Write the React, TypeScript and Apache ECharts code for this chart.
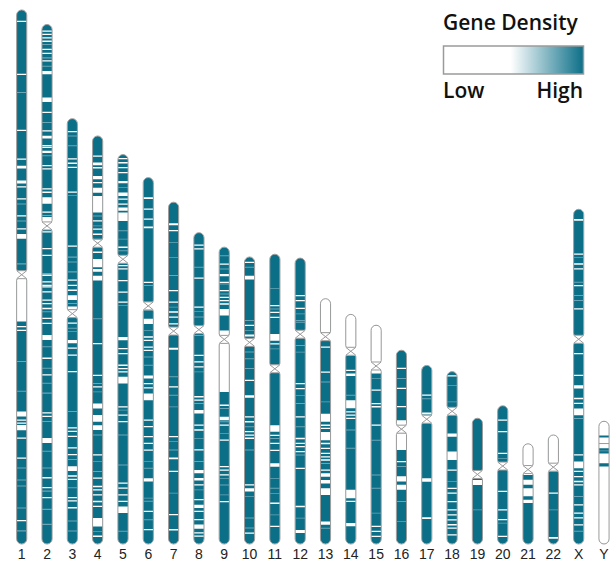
import React, { useEffect, useRef } from 'react';
import * as echarts from 'echarts';

// ---------- DATA ----------
const chromosomes = ['1','2','3','4','5','6','7','8','9','10','11','12','13','14','15','16','17','18','19','20','21','22','X','Y'];
const lengthsMb = [248.96, 242.19, 198.3, 190.21, 181.54, 170.81, 159.35, 145.14, 138.39, 133.8, 135.09, 133.28, 114.36, 107.04, 101.99, 90.34, 83.26, 80.37, 58.62, 64.44, 46.71, 50.82, 156.04, 57.23];
const centromereMb = [123.4, 93.9, 90.9, 50.0, 48.8, 59.8, 60.1, 45.2, 43.0, 39.8, 53.4, 35.5, 17.7, 17.2, 19.0, 36.8, 25.1, 18.5, 26.2, 28.1, 12.0, 15.0, 60.6, 10.4];

// Low gene-density segments: [startMb, endMb, density level (0 = lowest, 0.5 = reduced)]
const low1 = [[5.0,5.6,0],[29.7,30.3,0],[38.2,38.7,0.5],[55.8,56.4,0],[69.2,69.8,0],[72.6,73.9,0],[79.5,80.9,0],[82.2,82.8,0],[87.8,88.4,0],[90.2,90.7,0.5],[95.7,96.3,0],[98.1,98.6,0.5],[101.7,102.3,0],[104.4,106.7,0],[118.1,118.6,0.5],[123.0,145.2,0],[147.3,147.9,0],[149.1,149.7,0],[163.6,164.1,0.5],[177.5,178.0,0.5],[187.2,189.5,0],[190.9,191.5,0],[192.3,192.9,0],[193.5,195.9,0],[199.3,199.9,0],[208.6,209.2,0],[213.3,213.8,0.5],[218.9,219.4,0.5],[221.7,222.2,0.5],[231.9,232.4,0.5],[237.8,238.4,0],[242.6,243.1,0.5]];
const low2 = [[2.8,3.4,0],[4.3,4.9,0],[5.9,6.5,0],[7.5,8.1,0],[9.1,9.6,0.5],[11.3,11.9,0],[13.2,13.8,0],[15.3,15.8,0.5],[16.7,17.3,0],[19.2,19.7,0.5],[21.7,23.2,0],[34.0,36.1,0],[40.7,41.3,0],[45.5,45.9,0.5],[49.3,49.9,0],[51.9,53.1,0],[56.2,56.8,0],[57.0,57.6,0],[58.8,59.9,0],[61.0,61.4,0.5],[65.5,66.1,0],[67.0,67.6,0],[76.3,76.9,0],[77.9,78.5,0],[80.5,83.6,0],[87.2,87.8,0],[88.8,89.3,0.5],[89.8,92.1,0],[96.4,97.0,0],[104.2,104.8,0],[107.3,107.9,0],[115.9,116.4,0.5],[116.6,117.2,0],[119.7,120.3,0],[121.3,121.9,0],[122.0,122.6,0],[124.3,124.9,0],[128.2,128.8,0],[129.8,130.4,0],[132.1,132.7,0],[133.7,134.2,0.5],[136.7,137.3,0],[139.0,139.6,0],[144.8,147.1,0],[150.0,150.5,0.5],[155.3,155.9,0],[160.0,160.5,0.5],[163.0,163.6,0],[167.0,167.5,0.5],[171.6,172.1,0.5],[180.8,181.4,0],[182.4,183.0,0],[184.8,185.3,0.5],[192.8,195.1,0],[198.7,199.2,0.5],[206.5,207.0,0.5],[211.0,211.6,0],[215.6,216.2,0],[217.3,217.8,0.5],[220.3,220.9,0],[225.8,226.3,0.5],[232.8,233.3,0.5]];
const low3 = [[5.8,6.4,0],[7.8,8.3,0.5],[12.4,12.9,0.5],[18.5,19.1,0],[20.5,21.1,0],[22.4,23.0,0],[34.0,34.6,0],[35.7,36.1,0.5],[59.1,59.7,0],[64.3,64.8,0.5],[66.6,67.1,0.5],[71.2,71.7,0.5],[75.0,75.6,0],[77.4,78.0,0],[79.7,80.3,0],[82.3,84.6,0],[86.0,86.4,0.5],[87.6,90.6,0],[95.0,95.6,0],[97.5,97.9,0.5],[99.1,99.5,0.5],[103.2,104.7,0],[106.7,107.3,0],[109.9,110.5,0],[117.6,118.2,0],[136.3,136.7,0.5],[143.9,144.5,0],[145.5,146.1,0],[147.8,148.4,0],[153.2,153.8,0],[156.3,156.9,0],[158.7,159.1,0.5],[162.0,164.3,0],[166.3,166.9,0],[167.9,168.5,0],[171.8,172.3,0.5],[176.4,177.0,0],[177.9,178.5,0],[181.1,181.7,0],[187.3,187.8,0.5],[192.0,192.4,0.5]];
const low4 = [[9.1,9.7,0],[12.4,13.6,0],[14.5,15.1,0],[18.7,20.2,0],[21.4,22.0,0],[24.1,26.4,0],[28.0,35.7,0],[37.1,37.5,0.5],[39.3,39.9,0],[41.7,42.1,0.5],[43.1,43.7,0],[45.5,46.1,0],[47.9,48.3,0.5],[53.9,54.5,0],[57.4,61.2,0],[62.0,63.3,0],[65.1,67.4,0],[85.0,85.4,0.5],[96.5,97.1,0],[111.3,111.9,0],[115.2,115.6,0.5],[116.7,117.3,0],[119.1,119.5,0.5],[124.7,127.0,0],[130.1,133.2,0],[134.8,137.1,0],[139.2,139.6,0.5],[148.4,149.0,0],[151.6,152.0,0.5],[156.2,156.6,0.5],[159.2,159.8,0],[163.1,163.7,0],[164.7,165.3,0],[167.0,167.6,0],[170.1,170.7,0],[172.4,173.0,0],[178.1,182.0,0],[184.1,184.5,0.5],[186.3,186.9,0]];
const low5 = [[1.6,2.2,0],[3.5,4.1,0],[5.8,6.4,0],[8.1,8.7,0],[12.3,13.4,0],[15.2,15.6,0.5],[17.7,19.3,0],[20.5,21.1,0],[22.8,23.4,0],[24.7,26.2,0],[27.0,30.9,0],[35.3,35.7,0.5],[39.2,39.6,0.5],[42.9,43.5,0],[44.6,45.0,0.5],[51.5,52.1,0],[53.0,53.6,0],[58.5,59.1,0],[63.8,64.4,0],[68.5,69.1,0],[70.2,70.6,0.5],[85.0,86.6,0],[90.2,90.8,0],[92.5,93.1,0],[97.9,98.5,0],[99.5,100.1,0],[101.0,101.6,0],[103.6,106.7,0],[117.3,117.9,0],[118.9,119.3,0.5],[121.2,121.8,0],[124.2,124.8,0],[130.5,130.9,0.5],[144.5,144.9,0.5],[152.9,153.5,0],[155.2,155.8,0],[158.3,158.9,0],[161.4,162.0,0],[164.0,167.1,0],[175.4,175.8,0.5]];
const low6 = [[9.2,10.0,0],[14.4,15.0,0],[19.1,19.7,0],[22.8,23.6,0],[48.5,49.1,0],[50.1,50.5,0.5],[57.7,58.5,0.5],[61.8,62.2,0.5],[65.8,68.2,0],[71.0,71.4,0.5],[74.0,74.6,0],[75.6,76.2,0],[78.7,79.3,0],[80.2,80.8,0],[83.4,83.8,0.5],[87.3,87.7,0.5],[92.2,93.7,0],[95.7,96.3,0],[97.7,98.3,0],[100.6,103.8,0],[112.8,113.4,0],[115.8,116.4,0],[120.5,121.1,0],[123.6,124.2,0],[126.7,127.3,0],[132.2,132.6,0.5],[135.3,135.7,0.5],[140.1,141.7,0],[149.2,149.6,0.5],[150.7,151.1,0.5],[155.3,155.9,0],[159.3,159.7,0.5],[163.8,164.4,0]];
const low7 = [[9.8,10.7,0],[13.0,13.6,0],[18.5,18.9,0.5],[25.5,25.9,0.5],[34.0,34.4,0.5],[40.9,41.5,0],[46.3,46.9,0],[48.7,49.1,0.5],[50.9,51.5,0],[53.3,53.9,0],[56.4,57.0,0],[67.8,68.8,0],[81.2,81.6,0.5],[85.8,86.4,0],[89.8,90.2,0.5],[95.2,95.6,0.5],[109.0,109.6,0],[111.4,111.8,0.5],[115.3,115.7,0.5],[119.0,119.8,0],[125.2,125.8,0],[135.4,135.8,0.5],[145.4,146.0,0],[152.4,153.0,0]];
const low8 = [[5.5,6.1,0],[7.3,7.9,0],[15.9,16.3,0.5],[20.9,21.5,0],[34.4,35.0,0],[36.5,36.9,0.5],[39.1,39.5,0.5],[43.7,44.3,0],[47.7,48.1,0.5],[56.9,57.5,0],[59.9,60.5,0],[62.3,62.9,0],[64.7,65.1,0.5],[76.2,76.8,0],[77.8,78.4,0],[79.4,79.8,0.5],[82.7,84.3,0],[89.4,90.0,0],[91.7,92.3,0],[95.7,96.1,0.5],[101.0,101.6,0],[106.5,106.9,0.5],[110.6,112.1,0],[114.4,115.5,0],[117.3,117.9,0],[119.7,120.1,0.5],[124.2,124.8,0],[126.8,128.4,0],[129.6,130.2,0],[133.5,134.1,0],[136.1,138.0,0],[139.7,140.3,0],[141.2,141.8,0]];
const low9 = [[3.8,4.2,0.5],[7.6,8.2,0],[10.0,10.4,0.5],[12.5,13.6,0],[16.1,16.7,0],[17.0,17.4,0.5],[20.0,20.6,0],[21.6,22.0,0.5],[23.1,23.7,0],[24.6,25.2,0],[26.2,26.8,0],[28.8,31.9,0],[38.9,67.5,0],[73.4,74.0,0],[75.0,75.4,0.5],[79.1,80.7,0],[81.2,81.6,0.5],[82.7,83.3,0],[86.7,87.1,0.5],[89.7,90.3,0],[102.0,102.6,0],[103.6,104.2,0],[105.9,106.5,0],[107.6,108.0,0.5],[110.7,111.1,0.5],[115.3,115.7,0.5],[118.3,118.9,0]];
const low10 = [[2.2,2.8,0],[4.6,5.0,0.5],[8.7,10.5,0],[29.4,29.8,0.5],[31.6,32.2,0],[34.0,34.4,0.5],[36.1,37.1,0],[44.1,44.5,0.5],[47.2,47.6,0.5],[51.8,52.2,0.5],[57.2,57.8,0],[64.4,65.6,0],[74.2,74.8,0],[76.5,77.1,0],[78.9,79.3,0.5],[81.1,81.7,0],[82.7,83.3,0],[84.2,84.8,0],[89.8,90.2,0.5],[105.9,106.5,0],[107.8,109.3,0],[111.4,111.8,0.5],[121.5,121.9,0.5],[126.1,126.5,0.5],[128.4,129.0,0]];
const low11 = [[15.7,16.1,0.5],[23.7,24.3,0],[25.3,25.7,0.5],[26.8,27.4,0],[29.1,29.7,0],[37.2,40.3,0],[41.5,42.1,0],[43.9,44.3,0.5],[79.7,82.8,0],[84.1,84.7,0],[85.7,86.1,0.5],[87.9,88.5,0],[91.1,91.7,0],[97.5,99.1,0],[104.3,104.7,0.5],[108.9,109.3,0.5],[111.3,111.7,0.5],[115.8,116.4,0],[121.3,121.7,0.5],[126.6,127.2,0]];
const low12 = [[17.2,17.8,0],[19.5,20.1,0],[23.1,23.7,0],[25.8,26.2,0.5],[28.9,29.3,0.5],[29.7,30.1,0.5],[40.5,40.9,0.5],[43.6,44.0,0.5],[58.2,58.8,0],[60.5,61.1,0],[63.8,64.2,0.5],[67.6,68.0,0.5],[73.7,74.3,0],[78.4,78.8,0.5],[83.8,84.4,0],[86.1,86.7,0],[87.6,88.2,0],[89.9,90.5,0],[91.6,92.0,0.5],[97.7,98.3,0],[115.5,116.1,0],[121.0,121.4,0.5],[126.7,128.2,0]];
const low13 = [[0,18.7,0],[22.3,22.9,0],[33.9,34.5,0],[38.6,39.0,0.5],[47.9,48.3,0.5],[53.6,57.4,0],[58.7,59.3,0],[60.2,60.8,0],[62.1,66.0,0],[67.2,67.8,0],[69.5,70.1,0],[71.8,72.4,0],[73.4,74.0,0],[74.9,75.5,0],[76.6,77.0,0.5],[79.6,80.2,0],[81.4,83.0,0],[84.5,86.1,0],[88.4,91.5,0],[103.9,105.4,0],[106.8,107.2,0.5]];
const low14 = [[0,18.3,0],[18.8,19.4,0],[25.8,26.4,0],[27.6,28.7,0],[37.5,37.9,0.5],[40.0,43.8,0],[45.1,45.7,0],[46.7,47.3,0],[48.2,48.8,0],[53.7,54.1,0.5],[62.2,62.6,0.5],[81.8,85.7,0],[86.9,87.5,0],[97.3,98.8,0]];
const low15 = [[0,22.5,0],[24.7,25.1,0.5],[30.0,30.6,0],[36.2,36.8,0],[37.7,38.3,0],[46.3,46.9,0],[53.4,53.8,0.5],[69.6,70.0,0.5],[75.8,76.2,0.5],[87.4,87.8,0.5],[93.5,94.1,0],[95.8,96.4,0],[98.1,98.7,0]];
const low16 = [[8.2,8.8,0],[13.0,13.4,0.5],[17.5,18.1,0],[26.0,26.6,0],[32.6,46.5,0],[51.6,52.2,0],[54.0,54.4,0.5],[58.8,61.2,0],[62.7,65.1,0],[70.3,70.7,0.5],[79.6,80.0,0.5]];
const low17 = [[13.6,14.2,0],[15.3,15.7,0.5],[21.9,22.9,0],[52.6,54.2,0],[70.8,71.6,0]];
const low18 = [[1.7,2.3,0],[6.2,6.6,0.5],[13.9,14.3,0.5],[28.8,30.4,0],[37.3,41.2,0],[45.6,46.2,0],[51.1,51.5,0.5],[54.1,54.7,0],[56.4,57.0,0],[60.3,60.9,0],[64.2,64.8,0],[66.5,67.1,0],[68.8,69.4,0],[71.1,71.7,0],[72.7,73.3,0],[75.8,76.4,0]];
const low19 = [[28.8,31.1,0],[42.5,42.9,0.5]];
const low20 = [[6.4,7.0,0],[11.8,12.4,0],[21.9,22.5,0],[24.3,24.7,0.5],[39.6,40.2,0],[48.2,48.8,0],[52.8,53.4,0],[54.5,54.9,0.5],[60.6,61.2,0]];
const low21 = [[0,10.5,0],[13.9,14.5,0],[16.8,19.1,0],[20.7,24.5,0],[26.1,27.6,0]];
const low22 = [[0,16.0,0],[26.8,27.4,0],[34.7,35.1,0.5],[47.6,48.4,0]];
const lowX = [[4.5,5.3,0],[20.6,21.2,0],[22.2,22.6,0.5],[25.2,25.8,0],[27.5,28.1,0],[33.8,34.2,0.5],[35.3,35.9,0],[40.0,40.4,0.5],[42.3,42.7,0.5],[46.1,46.7,0],[67.0,67.6,0],[77.1,77.7,0],[82.0,83.6,0],[87.9,88.5,0],[90.2,90.8,0],[92.9,96.0,0],[97.3,97.7,0.5],[114.2,114.8,0],[117.6,120.7,0],[121.9,122.5,0],[124.3,124.9,0],[126.6,127.2,0],[128.2,128.8,0],[133.7,134.1,0.5],[137.5,138.1,0],[141.3,141.9,0],[143.6,144.2,0],[146.8,147.4,0],[149.9,150.3,0.5]];
const lowY = [[0,6.7,0],[7.6,12.6,0],[13.6,13.9,0.5],[15.0,19.6,0],[21.1,57.23,0]];

const lowDensity = [low1, low2, low3, low4, low5, low6, low7, low8, low9, low10, low11, low12, low13, low14, low15, low16, low17, low18, low19, low20, low21, low22, lowX, lowY];

const legendTitle = 'Gene Density';
const legendLow = 'Low';
const legendHigh = 'High';

// ---------- STYLE ----------
const TEAL = '#0b6f88';
const LIGHT = '#6aa6b7';
const OUTLINE = '#9a9a9a';

export default function App() {
  const ref = useRef<HTMLDivElement>(null);

  useEffect(() => {
    if (!ref.current) return;
    const chart = echarts.init(ref.current, null, { renderer: 'svg' });

    const seriesData = chromosomes.map((_, i) => [i, lengthsMb[i], centromereMb[i]]);

    const renderItem = (params: any, api: any) => {
      const idx = params.dataIndex;
      const i = api.value(0);
      const len = api.value(1);
      const cen = api.value(2);
      const base = api.coord([i, 0]);
      const cx = base[0];
      const yBottom = base[1];
      const yTop = api.coord([i, len])[1];
      const w = api.size([1, 0])[0] * 0.4;
      const left = cx - w / 2;
      const r = w / 2;
      const yAt = (mb: number) => api.coord([i, len - mb])[1];
      const cenY = yAt(cen);
      const noPinch = chromosomes[idx] === 'Y';
      const pinch = noPinch ? 0 : 4;
      const arms = noPinch
        ? [{ y0: yTop, y1: yBottom, r: [r, r, r, r] }]
        : [
            { y0: yTop, y1: cenY - pinch, r: [r, r, 1.5, 1.5] },
            { y0: cenY + pinch, y1: yBottom, r: [1.5, 1.5, r, r] },
          ];
      const children: any[] = [];
      arms.forEach((arm) => {
        const shape = { x: left, y: arm.y0, width: w, height: arm.y1 - arm.y0, r: arm.r };
        const bandEls = lowDensity[idx].map((b: number[]) => {
          const y0 = yAt(b[0]);
          const y1 = yAt(b[1]);
          return {
            type: 'rect',
            shape: { x: left - 1, y: y0, width: w + 2, height: Math.max(y1 - y0, 0.9) },
            style: { fill: b[2] === 0 ? '#ffffff' : LIGHT },
          };
        });
        children.push({
          type: 'group',
          clipPath: { type: 'rect', shape: { ...shape } },
          children: [{ type: 'rect', shape: { ...shape }, style: { fill: TEAL } }, ...bandEls],
        });
        children.push({
          type: 'rect',
          shape: { ...shape },
          style: { fill: 'none', stroke: OUTLINE, lineWidth: 1 },
        });
      });
      if (!noPinch) {
        children.push({
          type: 'line',
          shape: { x1: left, y1: cenY - pinch, x2: left + w, y2: cenY + pinch },
          style: { stroke: OUTLINE, lineWidth: 1 },
        });
        children.push({
          type: 'line',
          shape: { x1: left + w, y1: cenY - pinch, x2: left, y2: cenY + pinch },
          style: { stroke: OUTLINE, lineWidth: 1 },
        });
      } else {
        children.push({
          type: 'line',
          shape: { x1: left, y1: cenY, x2: left + w, y2: cenY },
          style: { stroke: OUTLINE, lineWidth: 1 },
        });
      }
      return { type: 'group', children };
    };

    chart.setOption({
      animation: false,
      grid: { left: 21.7, right: 9, top: 7.75, bottom: 15, containLabel: false },
      xAxis: {
        type: 'value',
        min: 0,
        max: chromosomes.length - 1,
        interval: 1,
        axisLine: { show: false },
        axisTick: { show: false },
        splitLine: { show: false },
        axisLabel: {
          formatter: (v: number) => chromosomes[Math.round(v)] ?? '',
          fontSize: 14,
          color: '#222',
          fontFamily: 'Liberation Sans',
          margin: 3,
          showMinLabel: true,
          showMaxLabel: true,
        },
      },
      yAxis: { type: 'value', min: 0, max: 250, show: false },
      series: [
        {
          type: 'custom',
          renderItem,
          data: seriesData,
          encode: { x: 0, y: 1 },
          silent: true,
        },
      ],
      graphic: [
        {
          type: 'text',
          x: 443,
          y: 22,
          style: {
            text: legendTitle,
            fontSize: 21,
            fontWeight: 600,
            fontFamily: 'Open Sans',
            fill: '#111',
            textAlign: 'left',
            textVerticalAlign: 'middle',
          },
        },
        {
          type: 'rect',
          shape: { x: 443.5, y: 46, width: 140, height: 28 },
          style: {
            fill: {
              type: 'linear',
              x: 0, y: 0, x2: 1, y2: 0,
              colorStops: [
                { offset: 0, color: '#ffffff' },
                { offset: 0.48, color: '#ffffff' },
                { offset: 1, color: TEAL },
              ],
            },
            stroke: '#9a9a9a',
            lineWidth: 1.5,
          },
        },
        {
          type: 'text',
          x: 443,
          y: 89.5,
          style: {
            text: legendLow,
            fontSize: 21,
            fontWeight: 600,
            fontFamily: 'Open Sans',
            fill: '#111',
            textAlign: 'left',
            textVerticalAlign: 'middle',
          },
        },
        {
          type: 'text',
          x: 583,
          y: 89.5,
          style: {
            text: legendHigh,
            fontSize: 21,
            fontWeight: 600,
            fontFamily: 'Open Sans',
            fill: '#111',
            textAlign: 'right',
            textVerticalAlign: 'middle',
          },
        },
      ],
    });

    return () => chart.dispose();
  }, []);

  return (
    <div
      ref={ref}
      style={{ position: 'fixed', left: 0, top: 0, width: 613, height: 561, background: '#fff' }}
    />
  );
}
